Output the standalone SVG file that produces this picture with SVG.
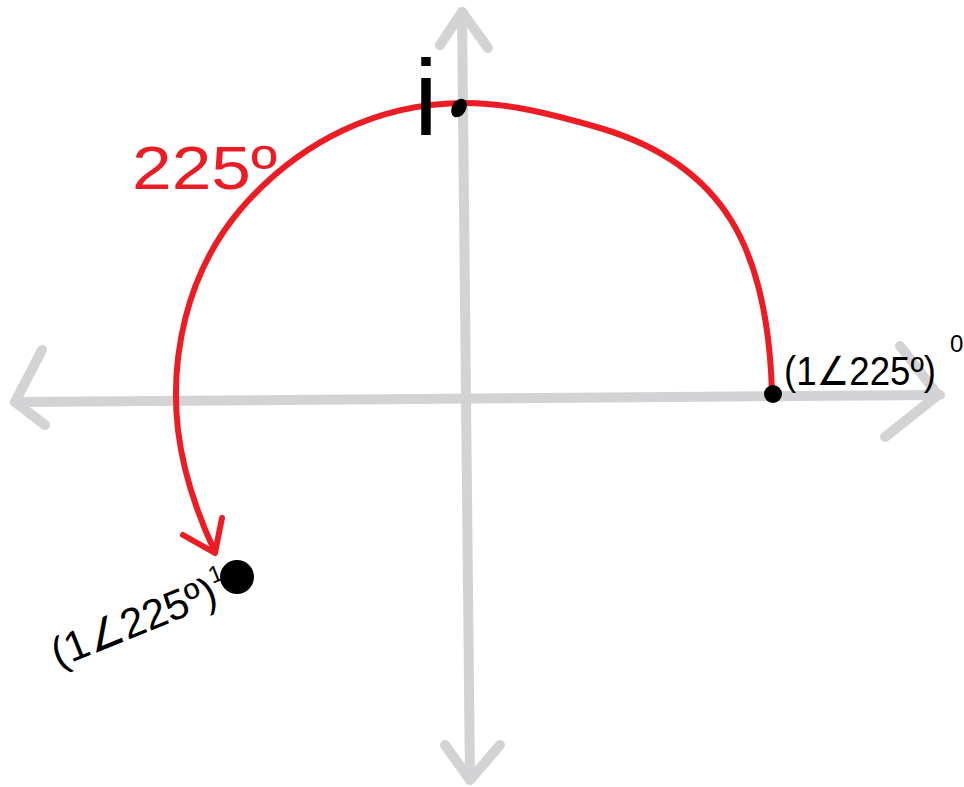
<svg xmlns="http://www.w3.org/2000/svg" width="964" height="787" viewBox="0 0 964 787">
<style>
.axis{fill:none;stroke:#d3d3d5;stroke-width:10;stroke-linecap:round;stroke-linejoin:round}
.arc{fill:none;stroke:#ec1c24;stroke-width:6;stroke-linecap:round;stroke-linejoin:round}
.lbl{font-family:"Liberation Sans","DejaVu Sans",sans-serif;fill:#000}
</style>
<rect width="964" height="787" fill="#fff"/>
<g id="axes">
<path class="axis" d="M15,402 L940,395"/>
<path class="axis" d="M42,350 L15,402 L45,425"/>
<path class="axis" d="M900,346 L938,395 L885,437"/>
<path class="axis" d="M462,12 L470,780"/>
<path class="axis" d="M440,45 L462,12 L488,48"/>
<path class="axis" d="M445,745 L470,780 L500,745"/>
</g>
<g id="connectors">
<path class="arc" d="M772,393 C768,250 725,165 600,128 C545,112 505,103 465,103 C380,103 300,140 240,210 C185,275 170,360 178,430 C184,480 200,520 215,552"/>
<path class="arc" d="M183,535 L215,553 L222,518"/>
</g>
<g id="point0">
<circle cx="773" cy="394" r="9" fill="#000"/>
<text class="lbl" x="784" y="385" font-size="40" textLength="152" lengthAdjust="spacingAndGlyphs">(1∠225º)</text>
<text class="lbl" x="950" y="352" font-size="24">0</text>
</g>
<g id="point1">
<circle cx="237" cy="577" r="17" fill="#000"/>
<text class="lbl" transform="translate(58,668) rotate(-22)" font-size="42">(1∠225º)<tspan font-size="24" dy="-20">1</tspan></text>
</g>
<g id="i-label">
<text class="lbl" x="414" y="135" font-size="108">i</text>
<ellipse cx="459" cy="108" rx="7" ry="10" transform="rotate(30 459 108)" fill="#000"/>
</g>
<g id="angle-label">
<text class="lbl" x="132" y="189" font-size="62" textLength="145" lengthAdjust="spacingAndGlyphs" style="fill:#ec1c24">225º</text>
</g>
</svg>
